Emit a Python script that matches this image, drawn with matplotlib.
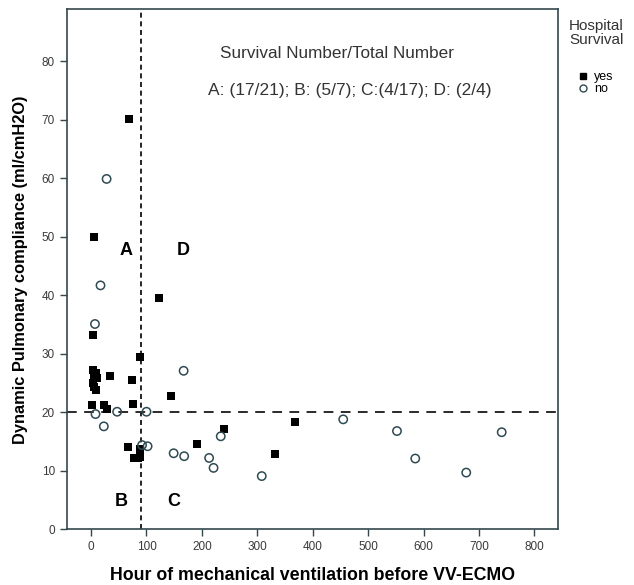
import matplotlib.pyplot as plt
from matplotlib.lines import Line2D

plt.rcParams['font.family'] = ['Liberation Sans', 'DejaVu Sans']

# survived (filled squares)
yes_hours = [68, 6, 4, 88, 3, 8, 5, 10, 4, 6, 9, 35, 73, 76, 1, 24, 28,
             67, 88, 78, 84, 89,
             191, 239, 368, 332,
             122, 144]
yes_comp = [70.2, 50.0, 33.2, 29.5, 27.3, 26.7, 26.3, 25.8, 25.0, 24.4, 23.8, 26.2, 25.6, 21.5, 21.3, 21.2, 20.5,
            14.1, 13.8, 12.2, 12.2, 12.4,
            14.6, 17.2, 18.3, 12.9,
            39.5, 22.8]

# died (open circles)
no_hours = [28, 17, 7, 47,
            23, 8,
            92, 102, 149, 168, 213, 221, 234, 308, 455, 552, 585, 677, 741,
            167, 100]
no_comp = [59.9, 41.7, 35.1, 20.1,
           17.6, 19.7,
           14.4, 14.2, 13.0, 12.5, 12.2, 10.5, 15.9, 9.1, 18.8, 16.8, 12.1, 9.7, 16.6,
           27.1, 20.1]

hour_cut = 90
comp_cut = 20
x_ticks = list(range(0, 900, 100))
y_ticks = list(range(0, 90, 10))
quad_names = ['A', 'B', 'C', 'D']
quad_x = [64, 55, 149, 167]
quad_y = [47.6, 4.8, 4.8, 47.6]

frame_col = '#34474d'
circ_col = '#2f4a52'

fig = plt.figure(figsize=(6.34, 5.85), dpi=100)
ax = fig.add_axes([0.1052, 0.0952, 0.7744, 0.8889])

ax.axvline(hour_cut, color='black', lw=1.2, linestyle=(0, (3, 2.2)), zorder=1)
ax.axhline(comp_cut, color='#2a2a2a', lw=1.4, linestyle=(0, (5, 3.8)), zorder=1)

ax.scatter(yes_hours, yes_comp, marker='s', s=26, c='black', linewidths=0, zorder=3)
ax.scatter(no_hours, no_comp, marker='o', s=36, facecolors='none', edgecolors=circ_col,
           linewidths=1.1, zorder=3)

for name, qx, qy in zip(quad_names, quad_x, quad_y):
    ax.text(qx, qy, name, fontsize=13, fontweight='bold', ha='center', va='center')

ax.text(444, 81.4, 'Survival Number/Total Number', fontsize=12.3, color='#333333',
        ha='center', va='center')
ax.text(466, 75.0, 'A: (17/21); B: (5/7); C:(4/17); D: (2/4)', fontsize=12.5, color='#333333',
        ha='center', va='center')

ax.set_xlim(-44, 842)
ax.set_ylim(0, 88.9)
ax.set_xticks(x_ticks)
ax.set_yticks(y_ticks)
for sp in ax.spines.values():
    sp.set_color(frame_col)
    sp.set_linewidth(1.2)
ax.tick_params(length=5, width=1.0, color=frame_col, labelsize=8.5, labelcolor='#3a3a3a')

ax.set_xlabel('Hour of mechanical ventilation before VV-ECMO', fontsize=12.8,
              fontweight='bold', labelpad=10)
ax.set_ylabel('Dynamic Pulmonary compliance (ml/cmH2O)', fontsize=11.8,
              fontweight='bold', labelpad=10)

# legend title written separately so it can sit well above the entries
fig.text(569 / 634, 1 - 33 / 585, 'Hospital\nSurvival', fontsize=11, color='#333333',
         ha='left', va='center', linespacing=1.05)
handles = [Line2D([], [], marker='s', color='black', linestyle='none', markersize=4.5),
           Line2D([], [], marker='o', color=circ_col, markerfacecolor='none',
                  linestyle='none', markersize=5, markeredgewidth=1.0)]
fig.legend(handles, ['yes', 'no'], loc='upper left',
           bbox_to_anchor=(578 / 634, 1 - 71 / 585), frameon=False, fontsize=9,
           handlelength=0.8, handletextpad=0.5, labelspacing=0.0, borderpad=0,
           borderaxespad=0)

fig.savefig('out.png', dpi=100)
